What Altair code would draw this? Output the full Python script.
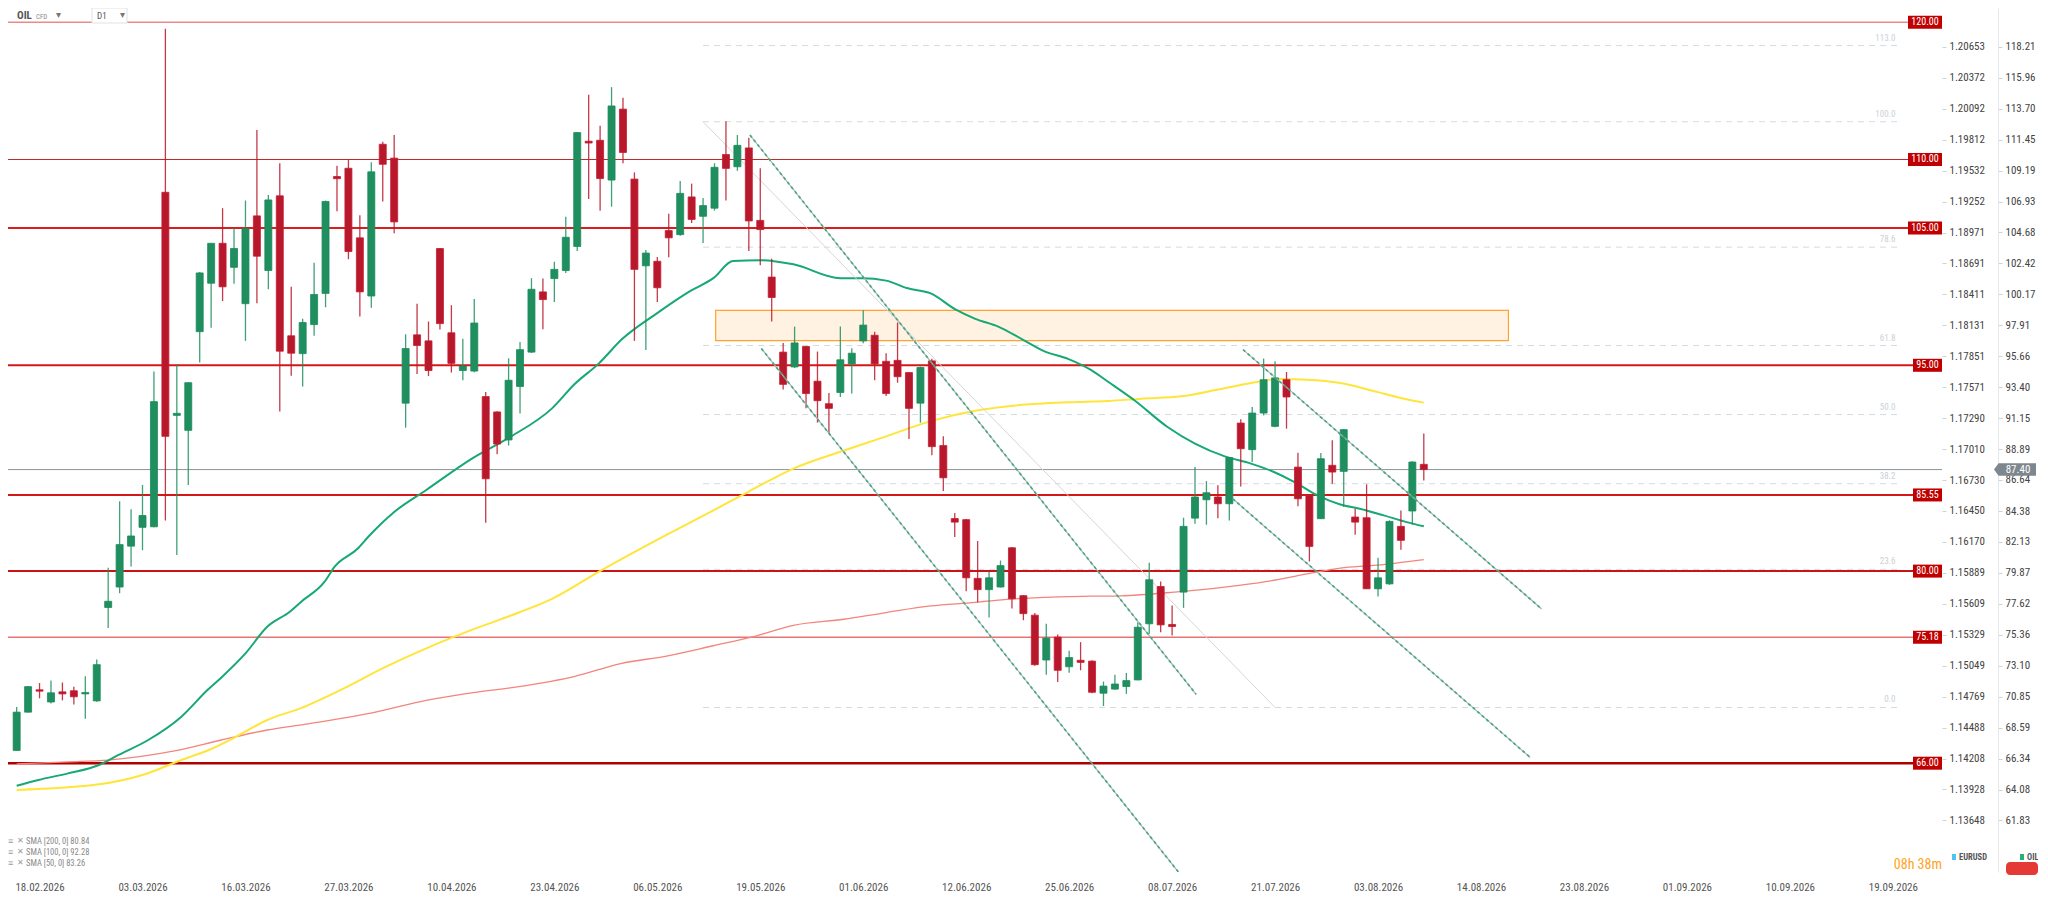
import altair as alt
import pandas as pd
import numpy as np

# ---------------- data ----------------
bar_idx = list(range(124))
opens = [66.93, 69.72, 71.35, 70.46, 71.20, 71.28, 71.05, 70.54, 77.35, 78.84,
         81.82, 83.19, 83.23, 107.61, 91.35, 90.26, 97.45, 100.98, 103.89, 102.14,
         99.49, 105.89, 101.91, 107.35, 97.15, 95.85, 97.97, 100.24, 108.76, 109.36,
         104.29, 100.05, 111.11, 110.10, 92.24, 97.22, 96.78, 103.51, 97.37, 94.62,
         94.58, 92.72, 91.60, 89.56, 93.46, 95.96, 100.35, 101.32, 101.91, 103.66,
         111.33, 111.40, 108.50, 113.67, 108.57, 102.25, 102.58, 104.82, 104.52, 107.27,
         105.86, 106.45, 110.36, 109.47, 110.84, 105.56, 101.43, 95.96, 94.88, 96.37,
         93.84, 92.20, 93.02, 95.10, 96.78, 97.19, 95.29, 95.36, 94.47, 92.24,
         95.32, 89.15, 83.83, 83.75, 79.47, 78.65, 78.84, 81.70, 78.21, 76.79,
         73.52, 75.19, 73.03, 73.50, 73.44, 71.10, 71.40, 71.59, 72.07, 76.16,
         78.88, 76.11, 78.47, 83.86, 85.20, 85.40, 84.91, 90.79, 88.85, 91.52,
         90.55, 93.95, 87.58, 85.52, 83.82, 87.71, 87.27, 83.94, 83.89, 78.71,
         79.07, 83.26, 84.38, 87.78]
highs = [70.09, 71.60, 71.84, 72.03, 71.88, 71.58, 72.33, 73.55, 80.25, 85.09,
         84.50, 86.28, 94.54, 119.52, 95.07, 93.75, 101.80, 103.90, 106.45, 105.00,
         107.01, 112.15, 107.42, 109.73, 100.72, 98.40, 102.47, 107.00, 109.54, 109.99,
         105.93, 109.80, 111.30, 111.78, 97.26, 99.49, 98.19, 103.55, 99.38, 96.93,
         99.83, 93.06, 91.65, 95.51, 96.70, 101.35, 101.32, 102.55, 105.82, 112.00,
         114.72, 112.45, 115.27, 114.49, 109.06, 103.40, 102.90, 106.04, 108.43, 108.24,
         107.20, 109.73, 112.78, 111.78, 111.59, 109.36, 102.77, 96.63, 97.82, 96.40,
         96.00, 92.98, 97.82, 96.25, 99.01, 97.45, 95.88, 98.12, 94.50, 94.90,
         95.47, 89.82, 84.24, 83.80, 82.19, 79.96, 80.77, 81.75, 78.25, 76.95,
         76.16, 75.38, 74.19, 74.82, 73.50, 71.95, 72.44, 72.58, 76.28, 80.61,
         79.25, 77.49, 83.89, 87.58, 86.56, 86.25, 88.30, 91.06, 91.96, 95.49,
         95.29, 94.51, 88.63, 85.55, 88.61, 89.53, 90.35, 84.55, 86.32, 80.97,
         83.70, 84.42, 88.00, 90.02]
lows = [66.90, 69.70, 70.73, 70.35, 70.58, 70.28, 69.24, 70.47, 75.86, 78.39,
        80.33, 81.52, 83.20, 83.68, 81.18, 86.28, 95.21, 97.74, 99.68, 100.95,
        96.78, 99.53, 100.54, 91.64, 94.24, 93.46, 97.15, 99.23, 106.23, 102.73,
        98.56, 99.20, 106.94, 104.63, 90.45, 94.36, 94.21, 97.60, 94.47, 93.91,
        94.50, 83.53, 88.51, 89.15, 91.49, 95.90, 97.63, 99.61, 101.73, 103.33,
        107.12, 106.27, 106.56, 109.73, 96.78, 96.11, 99.61, 102.88, 104.45, 105.37,
        103.92, 106.27, 107.01, 109.17, 103.33, 102.29, 98.19, 93.24, 94.80, 91.86,
        90.82, 90.00, 92.68, 92.94, 96.60, 93.91, 92.76, 93.73, 89.63, 90.82,
        88.44, 85.84, 82.49, 78.54, 77.72, 76.61, 78.80, 77.28, 76.42, 73.10,
        72.44, 71.92, 72.59, 72.77, 71.10, 70.17, 71.35, 71.05, 72.05, 75.43,
        75.55, 75.31, 77.32, 83.45, 83.38, 83.86, 83.69, 86.17, 87.95, 91.35,
        90.48, 90.38, 84.72, 80.70, 83.80, 86.37, 84.67, 82.65, 78.70, 78.15,
        79.00, 81.55, 83.38, 86.61]
closes = [69.72, 71.58, 71.25, 71.13, 71.05, 70.84, 71.15, 73.18, 77.80, 81.93,
          82.56, 84.05, 92.35, 89.82, 91.50, 93.73, 101.73, 103.89, 100.72, 103.51,
          104.96, 102.95, 107.05, 96.03, 95.88, 98.12, 100.16, 106.94, 108.60, 103.29,
          100.35, 109.10, 109.65, 105.45, 96.22, 96.44, 94.62, 98.04, 95.14, 94.95,
          98.08, 86.73, 89.26, 93.91, 96.14, 100.54, 99.79, 101.99, 104.33, 111.96,
          111.20, 108.61, 113.90, 110.51, 101.99, 103.18, 100.65, 104.29, 107.53, 105.63,
          106.64, 109.43, 109.35, 111.03, 105.52, 104.89, 99.94, 93.61, 96.63, 92.94,
          92.42, 91.86, 95.40, 95.88, 97.93, 95.10, 92.94, 94.17, 91.86, 94.84,
          89.07, 86.80, 83.57, 79.51, 78.65, 79.51, 80.40, 77.98, 76.90, 73.18,
          75.12, 72.77, 73.70, 73.35, 71.17, 71.62, 71.77, 72.02, 75.91, 79.37,
          76.08, 75.96, 83.26, 85.40, 85.71, 84.91, 88.27, 88.92, 91.52, 93.95,
          94.08, 92.69, 85.27, 81.80, 88.19, 87.22, 90.31, 83.57, 78.71, 79.51,
          83.62, 82.24, 87.95, 87.40]

# moving averages (bar position, value)
sma50_x = [0, 1.9, 4.5, 7.2, 8.9, 11.5, 14.4, 16.7, 17.9, 20, 21.9, 23.9, 24.8, 26.9, 27.8,
           29.8, 30.8, 32.9, 35.8, 39.9, 43.0, 46.8, 48.8, 50.9, 52.9, 55.9, 58.9, 60.9, 62.6,
           65.0, 67.9, 72.0, 73.9, 76.0, 77.9, 79.9, 82.1, 83.8, 85.8, 87.9, 89.8, 91.9, 93.9,
           95.4, 97.7, 100.6, 103.0, 105.6, 107.9, 109.9, 111.7, 113.7, 115.7, 117.4, 119.5,
           121.5, 123.0]
sma50_v = [64.36, 64.78, 65.26, 65.87, 66.6, 67.69, 69.39, 71.35, 72.25, 74.0, 75.94, 77.05,
           77.72, 79.21, 80.33, 81.63, 82.56, 84.24, 85.91, 88.25, 89.71, 91.86, 93.65, 95.14,
           96.89, 98.75, 100.42, 101.35, 102.6, 102.66, 102.36, 101.35, 101.35, 101.17, 100.61,
           100.24, 99.05, 98.38, 97.82, 96.89, 96.03, 95.47, 94.66, 93.8, 92.45, 90.5, 89.29,
           88.36, 87.83, 87.22, 86.49, 85.52, 84.86, 84.55, 84.06, 83.57, 83.26]
sma100_x = [0, 7.2, 11.0, 14.4, 16.9, 19.0, 21.9, 24.8, 28.3, 32.2, 35.8, 39.9, 43.9, 46.8,
            50.9, 56.8, 60.9, 64.0, 67.9, 72.0, 76.0, 79.9, 83.8, 87.9, 91.9, 95.4, 98.3,
            101.8, 105.0, 107.9, 110.5, 112.8, 115.7, 118.6, 120.9, 123.0]
sma100_v = [64.05, 64.46, 65.14, 66.23, 67.0, 67.85, 69.15, 70.0, 71.33, 73.0, 74.37, 75.75,
            76.98, 77.98, 79.96, 82.64, 84.42, 85.8, 87.47, 88.7, 89.82, 90.93, 91.68, 92.12,
            92.31, 92.4, 92.57, 92.74, 93.23, 93.71, 94.0, 93.95, 93.71, 93.13, 92.64, 92.28]
sma200_x = [0, 4.5, 8.0, 13.8, 17.9, 21.9, 25.3, 30.6, 35.8, 39.9, 43.9, 48.8, 52.8, 56.8,
            60.9, 64.3, 67.9, 72.3, 76.0, 79.9, 83.8, 86.1, 89.8, 93.9, 96.5, 101.2, 105.6,
            109.3, 112.8, 115.7, 118.6, 123.0]
sma200_v = [65.95, 66.1, 66.23, 66.89, 67.69, 68.42, 68.85, 69.59, 70.58, 71.14, 71.58, 72.33,
            73.26, 73.81, 74.56, 75.2, 76.05, 76.49, 76.98, 77.46, 77.72, 77.91, 78.09, 78.17,
            78.2, 78.47, 78.83, 79.25, 79.8, 80.22, 80.41, 80.84]

# horizontal levels
level_prices = [120.00, 110.00, 105.00, 95.00, 85.55, 80.00, 75.18, 66.00]

# fibonacci retracement
fib_prices = [118.30, 112.75, 103.61, 96.44, 91.41, 86.37, 80.13, 70.06]
fib_labels = ["113.0", "100.0", "78.6", "61.8", "50.0", "38.2", "23.6", "0.0"]
fib_x0, fib_x1 = 60.0, 164.4
fib_diag_x = [60.0, 110.0]
fib_diag_p = [112.75, 70.06]

# supply zone
zone_x = [61.1, 130.4]
zone_p = [96.8, 99.0]

# trend channels (line id, bar position, price)
chan_id = ["a", "a", "b", "b", "c", "c", "d", "d"]
chan_x = [64.1, 103.1, 65.1, 102.0, 107.2, 133.3, 106.3, 132.3]
chan_p = [111.78, 71.02, 96.22, 57.60, 96.14, 77.24, 85.27, 66.42]

# axes
tick_pos = [2, 11, 20, 29, 38, 47, 56, 65, 74, 83, 92, 101, 110, 119, 128, 137, 146, 155, 164]
date_labels = ["18.02.2026", "03.03.2026", "16.03.2026", "27.03.2026", "10.04.2026",
               "23.04.2026", "06.05.2026", "19.05.2026", "01.06.2026", "12.06.2026",
               "25.06.2026", "08.07.2026", "21.07.2026", "03.08.2026", "14.08.2026",
               "23.08.2026", "01.09.2026", "10.09.2026", "19.09.2026"]
oil_ticks = [118.21, 115.96, 113.70, 111.45, 109.19, 106.93, 104.68, 102.42, 100.17, 97.91,
             95.66, 93.40, 91.15, 88.89, 86.64, 84.38, 82.13, 79.87, 77.62, 75.36, 73.10,
             70.85, 68.59, 66.34, 64.08, 61.83]
eur_ticks = [1.20653, 1.20372, 1.20092, 1.19812, 1.19532, 1.19252, 1.18971, 1.18691, 1.18411,
             1.18131, 1.17851, 1.17571, 1.17290, 1.17010, 1.16730, 1.16450, 1.16170, 1.15889,
             1.15609, 1.15329, 1.15049, 1.14769, 1.14488, 1.14208, 1.13928, 1.13648]

# ---------------- layout / style ----------------
W, H = 1934, 864
X_DOM = [-0.32, 167.86]
Y_DOM = [58.07, 121.04]
FONT = "Liberation Sans Narrow, Roboto Condensed, Roboto, sans-serif"
GREEN, GREEN_D = "#27b07a", "#1b8a5c"
RED, RED_D = "#ff3148", "#c81c30"

xs = alt.Scale(domain=X_DOM, nice=False, zero=False)
ys = alt.Scale(domain=Y_DOM, nice=False, zero=False)

XAXIS = alt.Axis(values=tick_pos,
                 labelExpr="%s[indexof(%s, datum.value)]" % (str(date_labels), str(tick_pos)),
                 grid=False, domain=False, ticks=False, labelPadding=9, labelFontSize=11,
                 labelColor="#555555", labelFont=FONT, title=None, labelOverlap=False,
                 labelFlush=False, labelBound=False)
YAXIS = alt.Axis(orient="right", offset=56, values=oil_ticks, format=".2f", tickSize=4,
                 tickColor="#cdd3d7", domainColor="#e6e9eb", labelFontSize=11, labelColor="#444444",
                 labelPadding=3, grid=False, title=None, labelFont=FONT)


def X(field):
    return alt.X(field, type="quantitative", scale=xs, axis=XAXIS)


def XD(val):
    return alt.X(datum=val, type="quantitative", scale=xs, axis=XAXIS)


def Y(field):
    return alt.Y(field, type="quantitative", scale=ys, axis=YAXIS)


candles = pd.DataFrame({"i": bar_idx, "o": opens, "h": highs, "l": lows, "c": closes})
candles["dir"] = np.where(candles["c"] >= candles["o"], "up", "down")

layers = []

# supply zone
zone_df = pd.DataFrame({"x0": [zone_x[0]], "x1": [zone_x[1]], "p0": [zone_p[0]], "p1": [zone_p[1]]})
layers.append(alt.Chart(zone_df).mark_rect(fill="#fff2e2", stroke="#ffa22e", strokeWidth=1.2).encode(
    x=X("x0"), x2="x1", y=Y("p0"), y2="p1"))

# fib levels
fib_df = pd.DataFrame({"p": fib_prices, "lab": fib_labels})
layers.append(alt.Chart(fib_df).mark_rule(color="#d3dbe1", strokeWidth=1, strokeDash=[6, 5]).encode(
    x=XD(fib_x0), x2=alt.X2(datum=fib_x1), y=Y("p")))
layers.append(alt.Chart(fib_df).mark_text(align="right", baseline="bottom", dy=-3, dx=-2,
                                           fontSize=9, color="#c9d1d8", font=FONT).encode(
    x=XD(fib_x1), y=Y("p"), text="lab:N"))

# horizontal price levels
level_style = {120.00: ("#e98b8b", 1.3), 110.00: ("#c02a2a", 1.1), 105.00: ("#d81e1e", 2.0),
               95.00: ("#d41818", 2.0), 85.55: ("#d41818", 2.0), 80.00: ("#c81414", 2.0),
               75.18: ("#e77272", 1.3), 66.00: ("#b00000", 2.6)}
for p in level_prices:
    col, sw = level_style[p]
    layers.append(alt.Chart(pd.DataFrame({"p": [p]})).mark_rule(color=col, strokeWidth=sw).encode(
        y=Y("p")))

# current price line
cur_df = pd.DataFrame({"p": [closes[-1]], "lab": [f"{closes[-1]:.2f}"]})
layers.append(alt.Chart(cur_df).mark_rule(color="#8d9498", strokeWidth=1).encode(y=Y("p")))

# moving averages
for xv, vv, col, sw in [(sma200_x, sma200_v, "#f2857c", 1.3),
                        (sma100_x, sma100_v, "#ffe53b", 2.0),
                        (sma50_x, sma50_v, "#17a874", 2.0)]:
    d = pd.DataFrame({"x": xv, "v": vv})
    layers.append(alt.Chart(d).mark_line(color=col, strokeWidth=sw, interpolate="monotone").encode(
        x=X("x"), y=Y("v"), order="x:Q"))

# fib diagonal
fd = pd.DataFrame({"x": fib_diag_x, "p": fib_diag_p})
layers.append(alt.Chart(fd).mark_line(color="#d6d6d6", strokeWidth=1).encode(x=X("x"), y=Y("p")))

# candles
col_scale = alt.Scale(domain=["up", "down"], range=[GREEN, RED])
wick_scale = alt.Scale(domain=["up", "down"], range=["#1f8f5f", "#b8182c"])
stroke_scale = alt.Scale(domain=["up", "down"], range=[GREEN_D, RED_D])
layers.append(alt.Chart(candles).mark_rule(strokeWidth=1.3, opacity=0.85).encode(
    x=X("i"), y=Y("l"), y2="h", color=alt.Color("dir:N", scale=wick_scale, legend=None)))
layers.append(alt.Chart(candles).mark_bar(size=7, strokeWidth=0.8).encode(
    x=X("i"), y=Y("o"), y2="c",
    color=alt.Color("dir:N", scale=col_scale, legend=None),
    stroke=alt.Stroke("dir:N", scale=stroke_scale, legend=None)))

# trend channels (grey line with short green dashes on top)
ch = pd.DataFrame({"id": chan_id, "x": chan_x, "p": chan_p})
layers.append(alt.Chart(ch).mark_line(color="#aab3b5", strokeWidth=1.2, clip=True).encode(
    x=X("x"), y=Y("p"), detail="id:N"))
layers.append(alt.Chart(ch).mark_line(color="#3aa57c", strokeWidth=1.7, strokeDash=[3, 3], clip=True,
                                      opacity=0.9).encode(
    x=X("x"), y=Y("p"), detail="id:N"))

# level price boxes at right edge
lv = pd.DataFrame({"p": level_prices, "lab": [f"{p:.2f}" for p in level_prices]})
for n, wbox in [(6, 34), (5, 29)]:
    sub = lv[lv["lab"].str.len() == n]
    layers.append(alt.Chart(sub).mark_rect(color="#c00000", yOffset=-6.5, y2Offset=6.5).encode(
        x=alt.value(W - wbox), x2=alt.value(W), y=Y("p"), y2="p"))
    layers.append(alt.Chart(sub).mark_text(color="white", fontSize=10, font=FONT,
                                           align="center", baseline="middle").encode(
        x=alt.value(W - wbox / 2), y=Y("p"), text="lab:N"))

# current price tag on the OIL axis
arrow = "M-1,0 L-0.78,-0.3 L1,-0.3 L1,0.3 L-0.78,0.3 Z"
layers.append(alt.Chart(cur_df).mark_point(shape=arrow, size=1764, filled=True, color="#7e878d",
                                           opacity=1).encode(x=alt.value(W + 73), y=Y("p")))
layers.append(alt.Chart(cur_df).mark_text(color="white", fontSize=11, font=FONT, align="center",
                                          baseline="middle").encode(
    x=alt.value(W + 76), y=Y("p"), text="lab:N"))


# header & footer annotations
def txt(s, x, y, size, color, weight="normal", align="left"):
    return alt.Chart(pd.DataFrame({"t": [s]})).mark_text(
        fontSize=size, color=color, fontWeight=weight, align=align, baseline="middle",
        font=FONT).encode(x=alt.value(x), y=alt.value(y), text="t:N")


def box(x0, x1, y0, y1, fill, stroke=None, radius=0):
    kw = dict(fill=fill, cornerRadius=radius)
    if stroke:
        kw.update(stroke=stroke, strokeWidth=1)
    return alt.Chart(pd.DataFrame({"a": [0]})).mark_rect(**kw).encode(
        x=alt.value(x0), x2=alt.value(x1), y=alt.value(y0), y2=alt.value(y1))


layers += [
    txt("OIL", 9, 8, 11, "#555555", "bold"),
    txt("CFD", 28, 9, 7, "#8a8a8a"),
    txt("▾", 48, 7, 10, "#777777"),
    box(84, 119, 0, 15, "white", "#e2e2e2"),
    txt("D1", 89, 8, 9, "#555555"),
    txt("▾", 112, 7, 10, "#777777"),
]
for k, (nm, arr) in enumerate([("200", sma200_v), ("100", sma100_v), ("50", sma50_v)]):
    yy = 833 + 11 * k
    layers += [txt("≡", 0, yy, 9, "#9a9a9a"), txt("✕", 9, yy, 8, "#9a9a9a"),
               txt(f"SMA [{nm}, 0] {arr[-1]:.2f}", 18, yy, 8.5, "#8a8a8a")]
layers += [
    txt("08h 38m", W, 857, 14, "#ffa21a", align="right"),
    box(W + 10, W + 14, 846, 852, "#4fc3f7"),
    txt("EURUSD", W + 17, 849, 8.5, "#555555", "bold"),
    box(W + 78, W + 82, 846, 852, "#27b07a"),
    txt("OIL", W + 85, 849, 8.5, "#555555", "bold"),
    box(W + 64, W + 96, 854, 867, "#e53935", radius=4),
]

main = alt.layer(*layers)

# EURUSD axis (second price scale, aligned with the OIL scale)
slope = (eur_ticks[0] - eur_ticks[-1]) / (oil_ticks[0] - oil_ticks[-1])
eur_dom = [eur_ticks[-1] + (Y_DOM[0] - oil_ticks[-1]) * slope,
           eur_ticks[-1] + (Y_DOM[1] - oil_ticks[-1]) * slope]
eur_axis = alt.Axis(orient="right", offset=0, values=eur_ticks, format=".5f", tickSize=4,
                    tickColor="#cdd3d7", domain=False, labelFontSize=11, labelColor="#444444",
                    labelPadding=3, grid=False, title=None, labelFont=FONT)
eur_layer = alt.Chart(pd.DataFrame({"e": eur_ticks})).mark_point(opacity=0).encode(
    x=alt.value(0),
    y=alt.Y("e:Q", scale=alt.Scale(domain=eur_dom, nice=False, zero=False), axis=eur_axis))

chart = alt.layer(main, eur_layer).resolve_scale(y="independent").properties(
    width=W, height=H,
    autosize=alt.AutoSizeParams(type="none"),
    padding={"left": 0, "top": 0, "right": 96, "bottom": 22},
    background="white",
).configure_view(stroke=None)

chart.save("out.html", embed_options={"renderer": "svg", "actions": False})
